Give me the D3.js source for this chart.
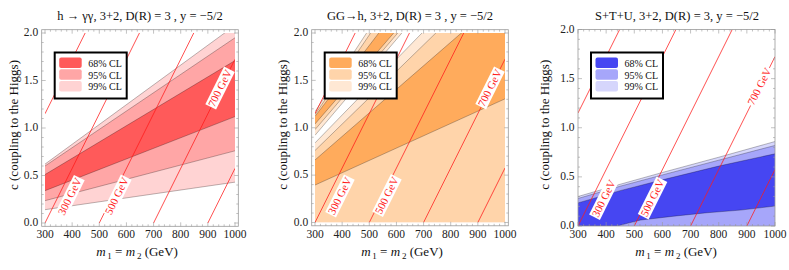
<!DOCTYPE html>
<html>
<head>
<meta charset="utf-8">
<script src="https://cdnjs.cloudflare.com/ajax/libs/d3/7.8.5/d3.min.js"></script>
<style>
body { margin: 0; background: #fff; }
svg text { font-family: "Liberation Serif", "Times New Roman", Times, "DejaVu Serif", serif; }
</style>
</head>
<body>
<svg id="chart" width="789" height="270"></svg>
<script>
const xTicks = [300, 400, 500, 600, 700, 800, 900, 1000];
const yTicks = [0, 0.5, 1, 1.5, 2];
const levelNames = ["68% CL", "95% CL", "99% CL"];
const titles = [
    "h \u2192 \u03b3\u03b3, 3+2, D(R) = 3 , y = \u22125/2",
    "GG\u2192h, 3+2, D(R) = 3 , y = \u22125/2",
    "S+T+U, 3+2, D(R) = 3, y = \u22125/2"
];

// lightest-state mass contours, end points in (m, c)
const contourStart = [[300, 1.15], [300, 0], [500, 0], [700, 0], [900, 0]];
const contourEnd = [[448, 2], [648, 2], [848, 2], [1000, 1.724], [1000, 0.575]];
const contourLabels = ["300 GeV", "500 GeV", "700 GeV"];
const labelSpots = [[392, 0.28], [565, 0.285], [945, 1.42]];

// h -> gamma gamma
const hggUp99 = [[300, 0.62], [1000, 2.08]];
const hggLo99 = [[300, 0.14], [1000, 0.43]];
const hggUp95 = [[300, 0.60], [1000, 1.95]];
const hggLo95 = [[300, 0.235], [1000, 0.76]];
const hggUp68 = [[300, 0.51], [1000, 1.71]];
const hggLo68 = [[300, 0.34], [1000, 1.12]];

// GG -> h, main branch
const ggUp99 = [[300, 0.84], [1000, 2.9]];
const ggUp95 = [[300, 0.76], [1000, 2.71]];
const ggUp68 = [[300, 0.66], [1000, 2.4]];
const ggLo68 = [[300, 0.395], [1000, 1.305]];
// GG -> h, second thin branch
const ggBUp99 = [[300, 1.17], [490, 2.0]];
const ggBLo99 = [[300, 0.92], [620, 2.0]];
const ggBUp95 = [[300, 1.14], [505, 2.0]];
const ggBLo95 = [[300, 0.98], [605, 2.0]];
const ggBUp68 = [[300, 1.12], [535, 2.0]];
const ggBLo68 = [[300, 1.04], [590, 2.0]];

// S+T+U
const stuUp99 = [[300, 0.30], [450, 0.425], [600, 0.545], [800, 0.70], [1000, 0.86]];
const stuUp95 = [[300, 0.28], [450, 0.405], [600, 0.52], [800, 0.67], [1000, 0.82]];
const stuUp68 = [[300, 0.235], [450, 0.36], [600, 0.47], [800, 0.61], [1000, 0.735]];
const stuLo68 = [[300, 0], [440, 0], [475, 0.027], [523, 0.061], [641, 0.10], [759, 0.135], [878, 0.162], [1000, 0.203]];
const floorLine = [[300, 0], [1000, 0]];

const panels = [
    { x: [45, 235], y: [223, 33], pad: 3.3, title: titles[0], tx: 140, xt: 137, yt: 17.5,
      colors: ["#ff5a5a", "#ffa6a6", "#ffd3d3"],
      regions: [[2, hggUp99, hggLo99], [1, hggUp95, hggLo95], [0, hggUp68, hggLo68]] },
    { x: [315, 505], y: [222.5, 33], pad: 3.3, title: titles[1], tx: 410, xt: 402, yt: 287,
      colors: ["#ffab5c", "#ffd4aa", "#ffe8d4"],
      regions: [[2, ggUp99, null], [2, ggBUp99, ggBLo99], [1, ggUp95, null], [1, ggBUp95, ggBLo95],
                [0, ggUp68, ggLo68], [0, ggBUp68, ggBLo68]] },
    { x: [578, 775], y: [226, 29.5], pad: 0, title: titles[2], tx: 677, xt: 676, yt: 549,
      colors: ["#4646f2", "#a6a6fa", "#d6d6fc"],
      regions: [[2, stuUp99, null], [1, stuUp95, null], [0, stuUp68, stuLo68]] }
];

const svg = d3.select('#chart')
    .attr('font-family', '"Liberation Serif", "Times New Roman", Times, serif');

panels.forEach((p, pi) => {
    const xS = d3.scaleLinear().domain([300, 1000]).range(p.x);
    const yS = d3.scaleLinear().domain([0, 2]).range(p.y);
    const g = svg.append('g');
    const fx0 = p.x[0] - p.pad, fx1 = p.x[1] + p.pad, fy0 = p.y[1] - p.pad, fy1 = p.y[0] + p.pad;

    const clipId = 'clip' + pi;
    g.append('clipPath').attr('id', clipId).append('rect')
        .attr('x', p.x[0]).attr('y', p.y[1])
        .attr('width', p.x[1] - p.x[0]).attr('height', p.y[0] - p.y[1]);
    const plot = g.append('g').attr('clip-path', `url(#${clipId})`);

    const line = d3.line().x(d => xS(d[0])).y(d => yS(d[1]));

    // confidence regions
    p.regions.forEach(([lvl, up, lo]) => {
        const lower = lo || floorLine;
        const poly = up.concat(lower.slice().reverse());
        plot.append('path')
            .attr('d', line(poly) + 'Z')
            .attr('fill', p.colors[lvl]);
    });
    p.regions.forEach(([lvl, up, lo]) => {
        [up, lo].forEach(b => {
            if (!b) return;
            plot.append('path').attr('d', line(b))
                .attr('fill', 'none').attr('stroke', '#000')
                .attr('stroke-opacity', 0.45).attr('stroke-width', 0.6);
        });
    });

    // mass contours
    contourStart.forEach((s, i) => {
        plot.append('path').attr('d', line([s, contourEnd[i]]))
            .attr('fill', 'none').attr('stroke', '#ff1a1a')
            .attr('stroke-opacity', 0.85).attr('stroke-width', 0.9);
    });
    const dx = xS(contourEnd[1][0]) - xS(contourStart[1][0]);
    const dy = yS(contourEnd[1][1]) - yS(contourStart[1][1]);
    const ang = Math.atan2(dy, dx) * 180 / Math.PI;
    contourLabels.forEach((t, i) => {
        const lg = plot.append('g')
            .attr('transform', `translate(${xS(labelSpots[i][0])},${yS(labelSpots[i][1])}) rotate(${ang})`);
        lg.append('rect').attr('x', -21).attr('y', -6).attr('width', 42).attr('height', 12).attr('fill', '#fff');
        lg.append('text').attr('text-anchor', 'middle').attr('y', 3.6)
            .attr('font-size', 11).attr('fill', '#ff1a1a').text(t);
    });

    // frame and ticks
    g.append('rect').attr('x', fx0).attr('y', fy0).attr('width', fx1 - fx0).attr('height', fy1 - fy0)
        .attr('fill', 'none').attr('stroke', '#999').attr('stroke-width', 0.8);
    const ticks = g.append('g').attr('stroke', '#999').attr('stroke-width', 0.6);
    d3.range(300, 1001, 20).forEach(v => {
        const major = v % 100 === 0, len = major ? 4 : 2, x = xS(v);
        ticks.append('line').attr('x1', x).attr('x2', x).attr('y1', fy1).attr('y2', fy1 - len);
        ticks.append('line').attr('x1', x).attr('x2', x).attr('y1', fy0).attr('y2', fy0 + len);
    });
    d3.range(0, 21).forEach(k => {
        const v = k / 10, major = k % 5 === 0, len = major ? 4 : 2, y = yS(v);
        ticks.append('line').attr('y1', y).attr('y2', y).attr('x1', fx0).attr('x2', fx0 + len);
        ticks.append('line').attr('y1', y).attr('y2', y).attr('x1', fx1).attr('x2', fx1 - len);
    });
    xTicks.forEach(v => {
        g.append('text').attr('x', xS(v)).attr('y', 238).attr('text-anchor', 'middle')
            .attr('font-size', 11.5).attr('fill', '#222').text(v);
    });
    yTicks.forEach(v => {
        g.append('text').attr('x', fx0 - 3.5).attr('y', yS(v) + 3.3).attr('text-anchor', 'end')
            .attr('font-size', 11.5).attr('fill', '#222').text(v.toFixed(1));
    });

    // titles
    g.append('text').attr('x', p.tx).attr('y', 19.5).attr('text-anchor', 'middle')
        .attr('font-size', 12.5).attr('fill', '#111').text(p.title);
    const xt = g.append('text').attr('x', p.xt).attr('y', 256).attr('text-anchor', 'middle')
        .attr('font-size', 13).attr('fill', '#111');
    xt.append('tspan').attr('font-style', 'italic').text('m');
    xt.append('tspan').attr('font-size', 9).attr('dy', 2.5).text('\u20091');
    xt.append('tspan').attr('dy', -2.5).text(' = ');
    xt.append('tspan').attr('font-style', 'italic').text('m');
    xt.append('tspan').attr('font-size', 9).attr('dy', 2.5).text('\u20092');
    xt.append('tspan').attr('dy', -2.5).text(' (GeV)');
    g.append('text').attr('transform', `translate(${p.yt},${(p.y[0] + p.y[1]) / 2 - 3}) rotate(-90)`)
        .attr('text-anchor', 'middle').attr('font-size', 13).attr('fill', '#111')
        .text('c (coupling to the Higgs)');

    // legend
    const lx = fx0 + 13, ly = 52.5;
    const leg = g.append('g').attr('transform', `translate(${lx},${ly})`);
    leg.append('rect').attr('width', 72).attr('height', 46)
        .attr('fill', '#fff').attr('stroke', '#000').attr('stroke-width', 2);
    levelNames.forEach((n, i) => {
        leg.append('rect').attr('x', 4.5).attr('y', 5 + i * 11.8).attr('width', 22.5).attr('height', 10.5)
            .attr('rx', 2).attr('fill', p.colors[i]);
        leg.append('text').attr('x', 33.5).attr('y', 14.2 + i * 11.8)
            .attr('font-size', 10).attr('fill', '#111').text(n);
    });
});
</script>
</body>
</html>
